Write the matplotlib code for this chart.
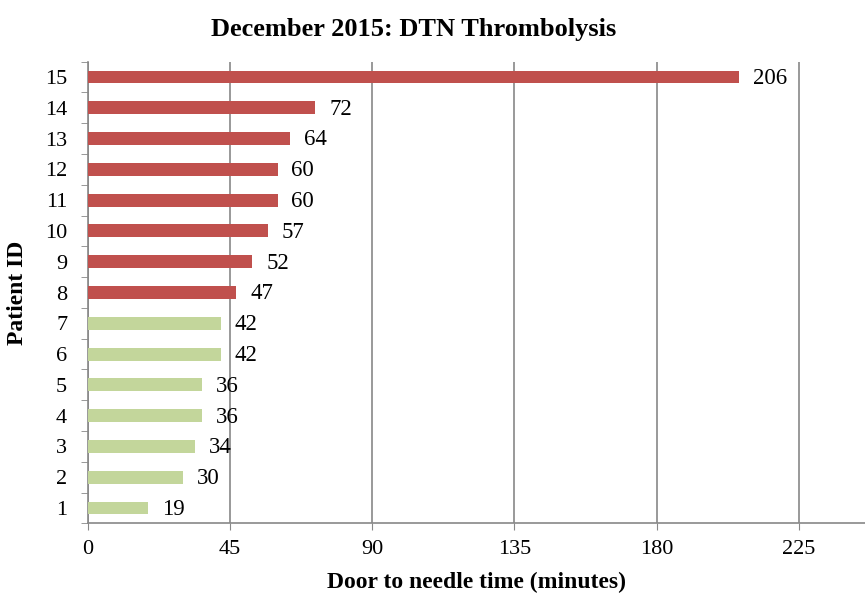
import matplotlib
matplotlib.use("Agg")
import matplotlib.pyplot as plt
import numpy as np

patients = list(range(1, 16))
minutes = [19, 30, 34, 36, 36, 42, 42, 47, 52, 57, 60, 60, 64, 72, 206]
target = 45
green = "#C3D69B"
red = "#C0504D"
colors = [green if m < target else red for m in minutes]
xticks = [0, 45, 90, 135, 180, 225]

plt.rcParams['font.family'] = ['Liberation Serif', 'DejaVu Serif']

fig = plt.figure(figsize=(8.65, 5.94), dpi=100)
ax = fig.add_axes([88/865, 1-523.4/594, 1-88/865, (523.4-61.6)/594])

ax.barh(patients, minutes, height=0.42, color=colors, zorder=3)
for p, m in zip(patients, minutes):
    ax.annotate(str(m), (m, p), xytext=(10, -1), textcoords="offset points",
                va="center", ha="left", fontsize=16.5, zorder=4)

ax.set_xlim(0, 246)
ax.set_ylim(0.5, 15.5)
ax.set_xticks(xticks)
ax.set_xticklabels([str(t) for t in xticks], fontsize=16)
ax.set_yticks(patients)
ax.set_yticklabels([str(p) for p in patients], fontsize=16)
ax.set_yticks(np.arange(0.5, 16, 1), minor=True)
ax.tick_params(axis='y', which='major', length=0, pad=15)
ax.tick_params(axis='y', which='minor', length=5, color="#888888", direction="out")
ax.tick_params(axis='x', which='major', length=5, color="#888888", pad=7)

ax.grid(axis='x', color="#888888", linewidth=1.2, zorder=0)
for s in ['top', 'right']:
    ax.spines[s].set_visible(False)
for s in ['left', 'bottom']:
    ax.spines[s].set_color("#888888")
    ax.spines[s].set_linewidth(1.2)

ax.set_xlabel("Door to needle time (minutes)", fontsize=17, fontweight='bold', labelpad=9)
ax.set_ylabel("Patient ID", fontsize=17, fontweight='bold', labelpad=12)
fig.text(0.478, 0.951, "December 2015: DTN Thrombolysis", ha="center", va="center",
         fontsize=19, fontweight='bold')

fig.savefig("out.png", dpi=100)
